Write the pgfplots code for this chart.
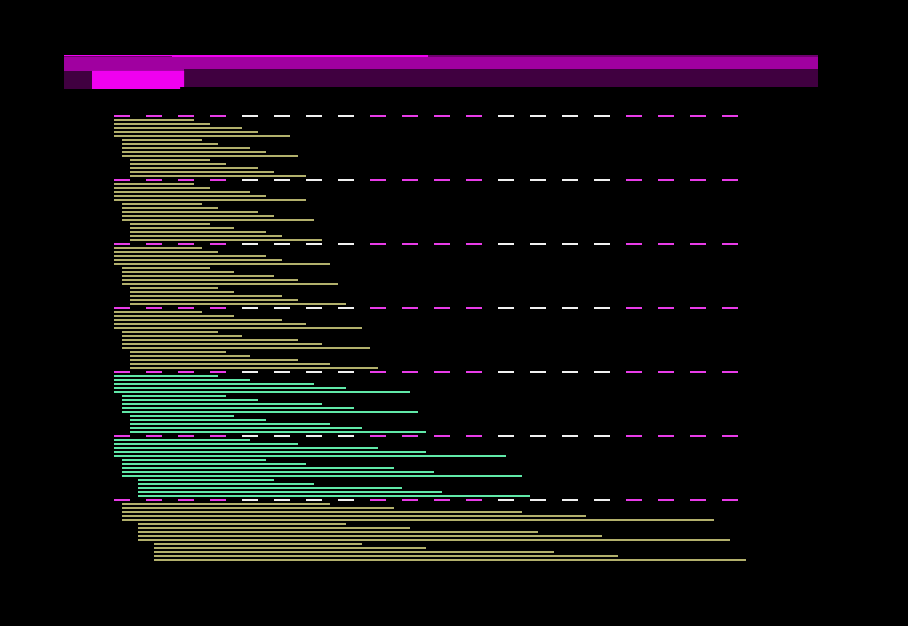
\documentclass[border=0pt]{standalone}
\usepackage{pgfplots}
\usepackage{pgfplotstable}
\pgfplotsset{compat=1.18}

\definecolor{olivebar}{RGB}{178,176,108}
\definecolor{greenbar}{RGB}{96,232,168}
\definecolor{magdash}{RGB}{232,60,232}
\definecolor{whitedash}{RGB}{240,240,240}
\definecolor{brightmag}{RGB}{240,0,240}
\definecolor{midmag}{RGB}{160,0,160}
\definecolor{linemag}{RGB}{112,0,112}
\definecolor{darkmag}{RGB}{64,0,64}

% bars: start x, row y, length (pixels of the reference)
\pgfplotstableread{
x y u
114 120 80
114 124 96
114 128 128
114 132 144
114 136 176
122 140 80
122 144 96
122 148 128
122 152 144
122 156 176
130 160 80
130 164 96
130 168 128
130 172 144
130 176 176
114 184 80
114 188 96
114 192 136
114 196 152
114 200 192
122 204 80
122 208 96
122 212 136
122 216 152
122 220 192
130 224 80
130 228 104
130 232 136
130 236 152
130 240 192
114 248 88
114 252 104
114 256 152
114 260 168
114 264 216
122 268 88
122 272 112
122 276 152
122 280 176
122 284 216
130 288 88
130 292 104
130 296 152
130 300 168
130 304 216
114 312 88
114 316 120
114 320 168
114 324 192
114 328 248
122 332 96
122 336 120
122 340 176
122 344 200
122 348 248
130 352 96
130 356 120
130 360 168
130 364 200
130 368 248
122 504 208
122 508 272
122 512 400
122 516 464
122 520 592
138 524 208
138 528 272
138 532 400
138 536 464
138 540 592
154 544 208
154 548 272
154 552 400
154 556 464
154 560 592
}\olivebars

\pgfplotstableread{
x y u
114 376 104
114 380 136
114 384 200
114 388 232
114 392 296
122 396 104
122 400 136
122 404 200
122 408 232
122 412 296
130 416 104
130 420 136
130 424 200
130 428 232
130 432 296
114 440 136
114 444 184
114 448 264
114 452 312
114 456 392
122 460 144
122 464 184
122 468 272
122 472 312
122 476 400
138 480 136
138 484 176
138 488 264
138 492 304
138 496 392
}\greenbars

\pgfplotstableread{
x y u
114 116 112
370 116 112
626 116 112
114 180 112
370 180 112
626 180 112
114 244 112
370 244 112
626 244 112
114 308 112
370 308 112
626 308 112
114 372 112
370 372 112
626 372 112
114 436 112
370 436 112
626 436 112
114 500 112
370 500 112
626 500 112
}\magsep

\pgfplotstableread{
x y u
242 116 112
498 116 112
242 180 112
498 180 112
242 244 112
498 244 112
242 308 112
498 308 112
242 372 112
498 372 112
242 436 112
498 436 112
242 500 112
498 500 112
}\whitesep

\begin{document}
\begin{tikzpicture}
\begin{axis}[
  scale only axis,
  width=454pt, height=313pt,
  xmin=0, xmax=908, ymin=0, ymax=626,
  y dir=reverse,
  enlargelimits=false,
  axis background/.style={fill=black},
  axis line style={draw=none},
  ticks=none,
  clip=true,
]
% header bands
\addplot[draw=none, fill=linemag] coordinates {(64,55) (818,55) (818,57) (64,57)};
\addplot[draw=none, fill=brightmag] coordinates {(64,55) (428,55) (428,56) (64,56)};
\addplot[draw=none, fill=brightmag] coordinates {(172,55) (428,55) (428,57) (172,57)};
\addplot[draw=none, fill=midmag] coordinates {(64,57) (818,57) (818,71) (64,71)};
\addplot[draw=none, fill=darkmag] coordinates {(64,71) (92,71) (92,89) (64,89)};
\addplot[draw=none, fill=darkmag] coordinates {(184,69) (818,69) (818,87) (184,87)};
\addplot[draw=none, fill=brightmag] coordinates {(92,71) (184,71) (184,87) (180,87) (180,89) (92,89)};
% separators
\addplot[magdash, line width=1pt, dash pattern=on 8pt off 8pt,
  quiver={u=\thisrow{u}, v=0}] table[x=x, y=y] {\magsep};
\addplot[whitedash, line width=1pt, dash pattern=on 8pt off 8pt,
  quiver={u=\thisrow{u}, v=0}] table[x=x, y=y] {\whitesep};
% bars
\addplot[olivebar, line width=1pt,
  quiver={u=\thisrow{u}, v=0}] table[x=x, y=y] {\olivebars};
\addplot[greenbar, line width=1pt,
  quiver={u=\thisrow{u}, v=0}] table[x=x, y=y] {\greenbars};
\end{axis}
\end{tikzpicture}
\end{document}
